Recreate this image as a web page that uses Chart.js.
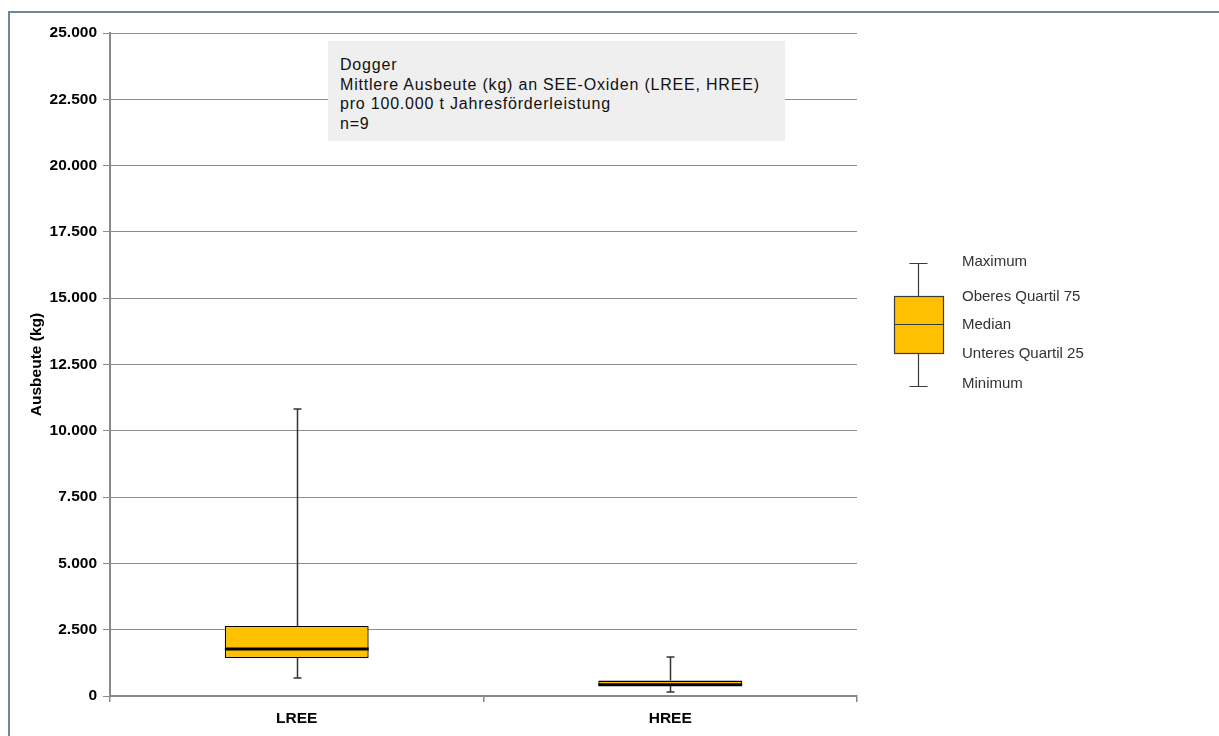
<!DOCTYPE html>
<html lang="de">
<head>
<meta charset="utf-8">
<title>Dogger – Ausbeute SEE-Oxide</title>
<script src="https://cdn.jsdelivr.net/npm/chart.js@4"></script>
<style>
  html, body { margin: 0; padding: 0; background: #fff; }
  #wrap { position: relative; width: 1219px; height: 736px; overflow: hidden; }
  #frame {
    position: absolute; left: 8px; top: 11px; right: -4px; bottom: -4px;
    border-left: 2px solid #6e8798; border-top: 2px solid #6e8798;
  }
  #infoBox {
    position: absolute; left: 328px; top: 41px; width: 445px; height: 86px;
    background: #efefef; padding: 14px 0 0 12px;
    font-family: "Liberation Sans", Arial, sans-serif; font-size: 16px;
    letter-spacing: 0.8px; line-height: 19.7px; color: #111;
  }
  canvas { position: absolute; left: 0; top: 0; }
</style>
</head>
<body>
<div id="wrap">
  <canvas id="boxChart" width="1219" height="736"></canvas>
  <div id="frame"></div>
  <div id="infoBox"></div>
</div>
<script>
const categories = ["LREE", "HREE"];
const minValues = [680, 150];
const q1Values = [1430, 390];
const medianValues = [1770, 425];
const q3Values = [2640, 580];
const maxValues = [10820, 1470];

const yTicks = [0, 2500, 5000, 7500, 10000, 12500, 15000, 17500, 20000, 22500, 25000];
const infoLines = [
  "Dogger",
  "Mittlere Ausbeute (kg) an SEE-Oxiden (LREE, HREE)",
  "pro 100.000 t Jahresförderleistung",
  "n=9"
];
const legendLabels = ["Maximum", "Oberes Quartil 75", "Median", "Unteres Quartil 25", "Minimum"];

const BOX_COLOR = "#ffc000";
const FONT = "'Liberation Sans', Arial, sans-serif";

function formatThousands(value) {
  return String(value).replace(/\B(?=(\d{3})+(?!\d))/g, ".");
}

document.getElementById("infoBox").innerHTML = infoLines.join("<br>");

const whiskerPlugin = {
  id: "whiskers",
  afterDatasetsDraw(chart) {
    const ctx = chart.ctx;
    const yScale = chart.scales.y;
    const meta = chart.getDatasetMeta(0);
    ctx.save();
    meta.data.forEach((bar, i) => {
      const x = Math.round(bar.x) + 0.5;
      const half = bar.width / 2;
      const yMax = yScale.getPixelForValue(maxValues[i]);
      const yMin = yScale.getPixelForValue(minValues[i]);
      const yQ1 = yScale.getPixelForValue(q1Values[i]);
      const yQ3 = yScale.getPixelForValue(q3Values[i]);
      const yMed = yScale.getPixelForValue(medianValues[i]);

      ctx.strokeStyle = "#333";
      ctx.lineWidth = 1.5;
      ctx.beginPath();
      ctx.moveTo(x, yQ3);
      ctx.lineTo(x, yMax);
      ctx.moveTo(x - 4, yMax);
      ctx.lineTo(x + 4, yMax);
      ctx.moveTo(x, yQ1);
      ctx.lineTo(x, yMin);
      ctx.moveTo(x - 4, yMin);
      ctx.lineTo(x + 4, yMin);
      ctx.stroke();

      ctx.strokeStyle = "#000";
      ctx.lineWidth = 3;
      ctx.beginPath();
      ctx.moveTo(bar.x - half, yMed);
      ctx.lineTo(bar.x + half, yMed);
      ctx.stroke();
    });
    ctx.restore();
  },
  afterDraw(chart) {
    // illustrative legend box on the right
    const ctx = chart.ctx;
    ctx.save();
    const left = 894, right = 943, cx = 918.5;
    const yMax = 263, yQ3 = 296, yMed = 324, yQ1 = 353, yMin = 386;
    ctx.fillStyle = BOX_COLOR;
    ctx.fillRect(left, yQ3, right - left, yQ1 - yQ3);
    ctx.strokeStyle = "#3a3a3a";
    ctx.lineWidth = 1.2;
    ctx.strokeRect(left + 0.5, yQ3 + 0.5, right - left, yQ1 - yQ3);
    ctx.beginPath();
    ctx.moveTo(left, yMed + 0.5);
    ctx.lineTo(right, yMed + 0.5);
    ctx.moveTo(cx, yQ3);
    ctx.lineTo(cx, yMax);
    ctx.moveTo(cx - 9, yMax + 0.5);
    ctx.lineTo(cx + 9, yMax + 0.5);
    ctx.moveTo(cx, yQ1);
    ctx.lineTo(cx, yMin);
    ctx.moveTo(cx - 9, yMin + 0.5);
    ctx.lineTo(cx + 9, yMin + 0.5);
    ctx.stroke();

    const labelY = [262, 297, 325, 354, 384];
    ctx.fillStyle = "#333";
    ctx.font = "15px " + FONT;
    ctx.textBaseline = "middle";
    ctx.textAlign = "left";
    legendLabels.forEach((label, i) => ctx.fillText(label, 962, labelY[i]));
    ctx.restore();
  }
};

const boxCtx = document.getElementById("boxChart");

new Chart(boxCtx, {
  type: "bar",
  data: {
    labels: categories,
    datasets: [
      {
        label: "Box",
        data: q1Values.map((q1, i) => [q1, q3Values[i]]),
        backgroundColor: BOX_COLOR,
        borderColor: "#000",
        borderWidth: 1.3,
        borderSkipped: false,
        categoryPercentage: 1,
        barPercentage: 0.385
      }
    ]
  },
  options: {
    responsive: false,
    animation: false,
    layout: { padding: { top: 33, right: 362, bottom: 10, left: 0 } },
    plugins: {
      legend: { display: false },
      tooltip: { enabled: false }
    },
    scales: {
      x: {
        afterFit(scale) { scale.height = 30; },
        grid: {
          offset: true,
          drawOnChartArea: false,
          drawTicks: true,
          tickLength: 6,
          color: "#888",
          lineWidth: 1.5
        },
        border: { display: true, color: "#888", width: 2 },
        ticks: {
          color: "#000",
          padding: 7,
          font: { family: FONT, size: 15.5, weight: "bold" }
        }
      },
      y: {
        min: 0,
        max: 25000,
        afterFit(scale) { scale.width = 110; },
        afterBuildTicks(scale) { scale.ticks = yTicks.map((v) => ({ value: v })); },
        grid: {
          color: "#8c8c8c",
          lineWidth: 1,
          drawTicks: true,
          tickLength: 7
        },
        border: { display: true, color: "#888", width: 2 },
        ticks: {
          color: "#000",
          padding: 6,
          font: { family: FONT, size: 15.5, weight: "bold" },
          callback: (value) => formatThousands(value)
        },
        title: {
          display: true,
          text: "Ausbeute (kg)",
          color: "#000",
          padding: { top: 27, bottom: 0 },
          font: { family: FONT, size: 15.5, weight: "bold" }
        }
      }
    }
  },
  plugins: [whiskerPlugin]
});
</script>
</body>
</html>
